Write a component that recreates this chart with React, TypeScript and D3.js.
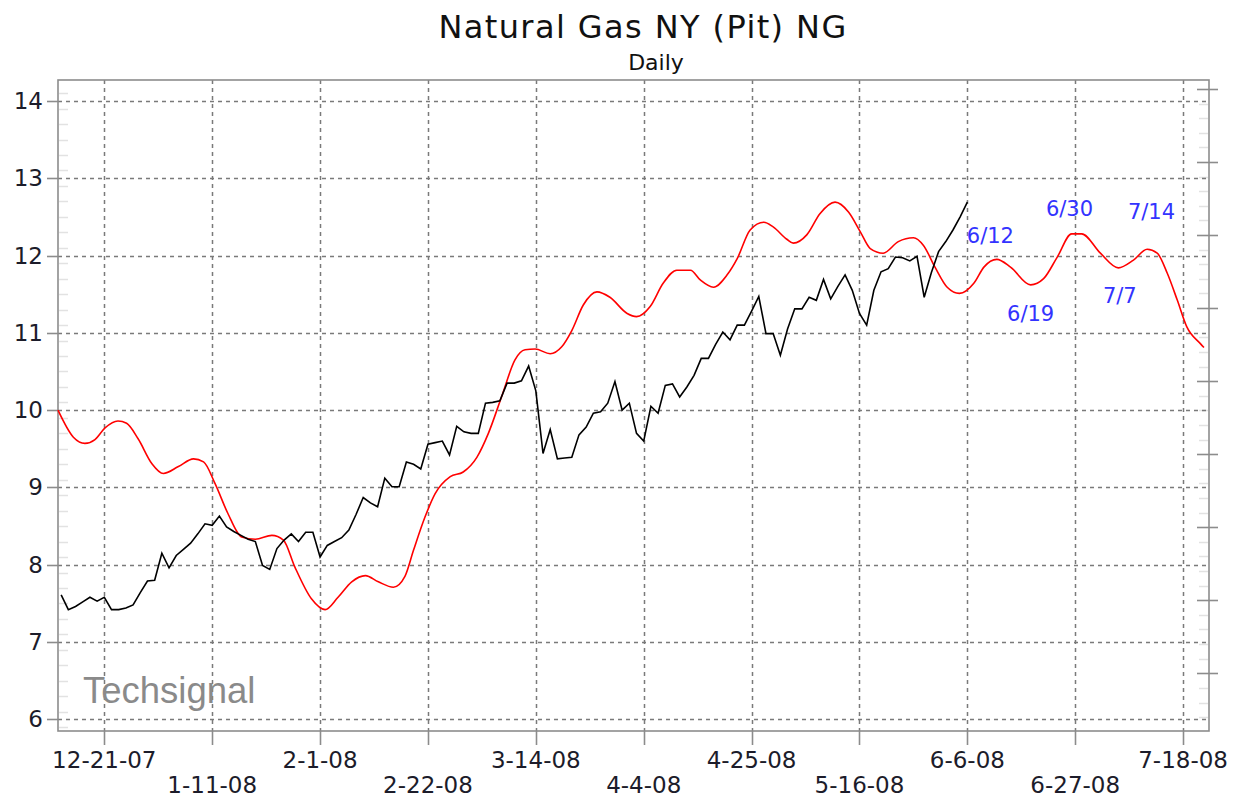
import React, { useRef, useEffect } from "react";
import * as d3 from "d3";

// daily closes, one per weekday, first value is weekday -6 (12-12-07), 0 = 12-21-07
const firstDay = -6;
const closes = [
  7.61, 7.42, 7.46, 7.52, 7.58, 7.53, 7.58, 7.42, 7.42, 7.44,
  7.48, 7.64, 7.79, 7.8, 8.15, 7.96, 8.12, 8.2, 8.28, 8.4,
  8.53, 8.51, 8.63, 8.49, 8.43, 8.38, 8.33, 8.3, 7.99, 7.94,
  8.21, 8.32, 8.4, 8.3, 8.42, 8.42, 8.1, 8.25, 8.3, 8.35,
  8.45, 8.65, 8.87, 8.8, 8.75, 9.12, 9.01, 9.01, 9.33, 9.3,
  9.24, 9.56, 9.58, 9.6, 9.42, 9.79, 9.72, 9.7, 9.7, 10.09,
  10.1, 10.12, 10.35, 10.35, 10.38, 10.57, 10.25, 9.44, 9.75, 9.37,
  9.38, 9.39, 9.68, 9.78, 9.96, 9.98, 10.09, 10.37, 10.0, 10.09,
  9.7, 9.6, 10.05, 9.96, 10.32, 10.34, 10.17, 10.3, 10.45, 10.67,
  10.67, 10.85, 11.01, 10.91, 11.1, 11.1, 11.28, 11.47, 10.99, 10.99,
  10.71, 11.05, 11.31, 11.31, 11.46, 11.42, 11.69, 11.44, 11.6, 11.75,
  11.55, 11.25, 11.1, 11.55, 11.79, 11.83, 11.98, 11.97, 11.93, 11.99,
  11.46, 11.78, 12.05, 12.18, 12.33, 12.5, 12.69,
];

// cycle line: [weekday, value]
const cycle: [number, number][] = [
  [-6.44, 10.0], [-4.3, 9.65], [-2.7, 9.57], [-1.3, 9.62], [0.1, 9.77],
  [1.9, 9.86], [3.1, 9.83], [4.7, 9.63], [6.6, 9.31], [8.2, 9.18],
  [10.3, 9.27], [12.4, 9.37], [13.8, 9.33], [15.4, 9.05], [17.2, 8.66],
  [19.1, 8.36], [21.0, 8.33], [23.3, 8.38], [24.9, 8.32], [26.5, 7.97],
  [28.8, 7.56], [30.7, 7.42], [32.5, 7.58], [34.4, 7.78], [36.3, 7.86],
  [38.1, 7.78], [40.2, 7.71], [41.8, 7.85], [43.0, 8.19], [44.6, 8.62],
  [46.0, 8.92], [48.1, 9.14], [49.9, 9.2], [51.8, 9.39], [53.4, 9.7],
  [55.3, 10.19], [57.1, 10.65], [58.5, 10.78], [59.9, 10.79], [62.0, 10.73],
  [63.6, 10.82], [65.0, 11.03], [66.6, 11.36], [68.5, 11.53], [70.3, 11.46],
  [72.7, 11.25], [74.0, 11.21], [75.9, 11.34], [77.7, 11.64], [79.6, 11.81],
  [81.5, 11.81], [82.9, 11.68], [84.7, 11.59], [86.6, 11.75], [88.0, 11.96],
  [89.8, 12.33], [91.7, 12.43], [93.0, 12.37], [94.9, 12.21], [95.8, 12.16],
  [97.7, 12.27], [99.5, 12.54], [101.6, 12.69], [103.5, 12.56], [105.1, 12.31],
  [106.5, 12.09], [108.3, 12.03], [110.4, 12.18], [112.5, 12.23], [113.9, 12.13],
  [115.5, 11.85], [117.2, 11.59], [118.9, 11.51], [120.9, 11.64], [122.3, 11.85],
  [124.1, 11.95], [126.0, 11.85], [128.8, 11.62], [130.6, 11.7], [132.5, 11.98],
  [134.5, 12.28], [135.9, 12.28], [138.5, 12.03], [141.0, 11.84], [143.1, 11.94],
  [145.0, 12.08], [146.4, 12.03], [147.8, 11.77], [149.2, 11.42], [150.5, 11.08],
  [152.4, 10.86], [152.9, 10.81],
];

// one label every 15 weekdays
const dateTicks = [
  "12-21-07", "1-11-08", "2-1-08", "2-22-08", "3-14-08", "4-4-08",
  "4-25-08", "5-16-08", "6-6-08", "6-27-08", "7-18-08",
];
const priceTicks = [6, 7, 8, 9, 10, 11, 12, 13, 14];

const notes = [
  { label: "6/12", day: 123.2, value: 12.16 },
  { label: "6/19", day: 128.8, value: 11.15 },
  { label: "6/30", day: 134.2, value: 12.51 },
  { label: "7/7", day: 141.2, value: 11.38 },
  { label: "7/14", day: 145.6, value: 12.47 },
];

const App = () => {
  const svgRef = useRef<SVGSVGElement>(null);

  useEffect(() => {
    const width = 1243;
    const height = 802;
    const margin = { top: 80, right: 34, bottom: 71, left: 58 };
    const font = "'DejaVu Sans', Verdana, sans-serif";

    const svg = d3.select(svgRef.current).attr("width", width).attr("height", height);
    svg.selectAll("*").remove();

    const x = d3.scaleLinear().domain([-6.44, 153.6]).range([margin.left, width - margin.right]);
    const y = d3.scaleLinear().domain([5.85, 14.27]).range([height - margin.bottom, margin.top]);
    // unlabeled scale on the right side
    const yRight = d3.scaleLinear().domain([-0.79, 8.123]).range([height - margin.bottom, margin.top]);

    const left = margin.left;
    const right = width - margin.right;
    const top = margin.top;
    const bottom = height - margin.bottom;

    svg.append("rect").attr("width", width).attr("height", height).attr("fill", "#fff");

    // title
    svg.append("text").attr("x", 643).attr("y", 38).attr("text-anchor", "middle")
      .attr("font-family", font).attr("font-size", 32).attr("letter-spacing", 1.4).attr("fill", "#111")
      .text("Natural Gas NY (Pit) NG");
    svg.append("text").attr("x", 656).attr("y", 70).attr("text-anchor", "middle")
      .attr("font-family", font).attr("font-size", 22).attr("fill", "#111")
      .text("Daily");

    const g = svg.append("g");

    // minor ticks, left
    const minorLeft = d3.range(5.9, 14.27, 0.2).filter((v) => Math.abs(v - Math.round(v)) > 0.05);
    g.selectAll(".minor-left").data(minorLeft).join("line")
      .attr("x1", left + 1).attr("x2", left + 10)
      .attr("y1", (d) => Math.round(y(d)) + 0.5).attr("y2", (d) => Math.round(y(d)) + 0.5)
      .attr("stroke", "#e2e2e2").attr("stroke-width", 1.5);

    // minor ticks, right
    const minorRight = d3.range(-0.6, 8.12, 0.2).filter((v) => Math.abs(v - Math.round(v)) > 0.05);
    g.selectAll(".minor-right").data(minorRight).join("line")
      .attr("x1", right - 10).attr("x2", right - 1)
      .attr("y1", (d) => Math.round(yRight(d)) + 0.5).attr("y2", (d) => Math.round(yRight(d)) + 0.5)
      .attr("stroke", "#e2e2e2").attr("stroke-width", 1.5);

    // grid
    g.selectAll(".hgrid").data(priceTicks).join("line")
      .attr("x1", left).attr("x2", right)
      .attr("y1", (d) => Math.round(y(d)) + 0.5).attr("y2", (d) => Math.round(y(d)) + 0.5)
      .attr("stroke", "#7a7a7a").attr("stroke-width", 1.5).attr("stroke-dasharray", "4,4");
    g.selectAll(".vgrid").data(dateTicks).join("line")
      .attr("x1", (d, i) => Math.round(x(i * 15)) + 0.5).attr("x2", (d, i) => Math.round(x(i * 15)) + 0.5)
      .attr("y1", top).attr("y2", bottom)
      .attr("stroke", "#7a7a7a").attr("stroke-width", 1.5).attr("stroke-dasharray", "4,4");

    // frame
    g.append("rect").attr("x", left).attr("y", top).attr("width", right - left).attr("height", bottom - top)
      .attr("fill", "none").attr("stroke", "#8c8c8c").attr("stroke-width", 1.6);

    // left major ticks + labels
    g.selectAll(".ytick").data(priceTicks).join("line")
      .attr("x1", left - 11).attr("x2", left)
      .attr("y1", (d) => Math.round(y(d)) + 0.5).attr("y2", (d) => Math.round(y(d)) + 0.5)
      .attr("stroke", "#8c8c8c").attr("stroke-width", 1.6);
    g.selectAll(".ylabel").data(priceTicks).join("text")
      .attr("x", left - 15).attr("y", (d) => y(d) + 8)
      .attr("text-anchor", "end").attr("font-family", font).attr("font-size", 23).attr("fill", "#1c1c2a")
      .text((d) => d);

    // right major ticks
    g.selectAll(".rtick").data(d3.range(0, 9)).join("line")
      .attr("x1", right - 12).attr("x2", right + 9)
      .attr("y1", (d) => Math.round(yRight(d)) + 0.5).attr("y2", (d) => Math.round(yRight(d)) + 0.5)
      .attr("stroke", "#8c8c8c").attr("stroke-width", 1.6);

    // bottom ticks + labels
    g.selectAll(".xtick").data(dateTicks).join("line")
      .attr("x1", (d, i) => Math.round(x(i * 15)) + 0.5).attr("x2", (d, i) => Math.round(x(i * 15)) + 0.5)
      .attr("y1", bottom).attr("y2", bottom + 14)
      .attr("stroke", "#8c8c8c").attr("stroke-width", 1.6);
    g.selectAll(".xlabel").data(dateTicks).join("text")
      .attr("x", (d, i) => x(i * 15)).attr("y", (d, i) => (i % 2 === 0 ? bottom + 37 : bottom + 62))
      .attr("text-anchor", "middle").attr("font-family", font).attr("font-size", 23).attr("fill", "#1c1c2a")
      .text((d) => d);

    // watermark
    g.append("text").attr("x", left + 25).attr("y", bottom - 28)
      .attr("font-family", "'Liberation Sans', Arial, sans-serif").attr("font-size", 36.5)
      .attr("fill", "#8a8a8a").text("Techsignal");

    // cycle line
    const cycleLine = d3.line<[number, number]>()
      .x((d) => x(d[0])).y((d) => y(d[1])).curve(d3.curveMonotoneX);
    g.append("path").datum(cycle).attr("d", cycleLine)
      .attr("fill", "none").attr("stroke", "#ff0000").attr("stroke-width", 1.6);

    // price line
    const priceLine = d3.line<number>()
      .x((d, i) => x(firstDay + i)).y((d) => y(d));
    g.append("path").datum(closes).attr("d", priceLine)
      .attr("fill", "none").attr("stroke", "#000").attr("stroke-width", 1.6)
      .attr("stroke-linejoin", "miter");

    // date notes
    g.selectAll(".note").data(notes).join("text")
      .attr("x", (d) => x(d.day)).attr("y", (d) => y(d.value))
      .attr("text-anchor", "middle").attr("font-family", font).attr("font-size", 21)
      .attr("fill", "#3333ff").text((d) => d.label);
  }, []);

  return (
    <div style={{ position: "absolute", left: 0, top: 0 }}>
      <svg ref={svgRef}></svg>
    </div>
  );
};

export default App;
